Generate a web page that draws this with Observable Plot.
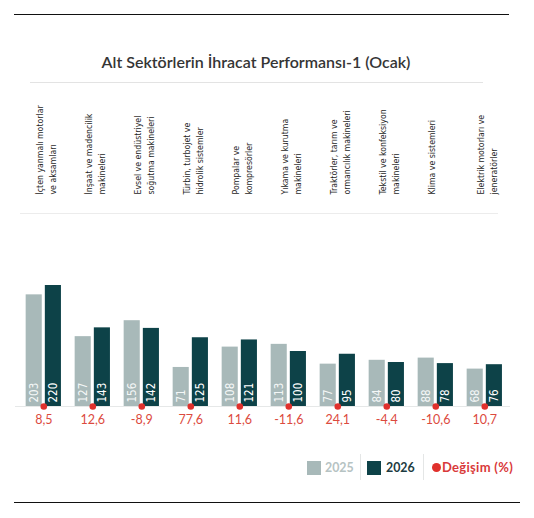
<!DOCTYPE html>
<html>
<head>
<meta charset="utf-8">
<script src="https://cdn.jsdelivr.net/npm/d3@7"></script>
<script src="https://cdn.jsdelivr.net/npm/@observablehq/plot@0.6"></script>
<style>
  html, body { margin: 0; padding: 0; background: #fff; }
  #wrap { position: relative; width: 534px; height: 518px; overflow: hidden; font-family: Lato, "Open Sans", sans-serif; }
  .hline { position: absolute; height: 0; }
  #title { position: absolute; left: 0; width: 512px; top: 52px; text-align: center; font-size: 16px; font-weight: 600; color: #353535; }
  #chart { position: absolute; left: 0; top: 90px; }
  #legend { position: absolute; top: 0; left: 0; width: 534px; height: 518px; pointer-events: none; }
  #legend > * { position: absolute; }
  .lt { top: 458px; line-height: 19px; font-weight: bold; white-space: nowrap; }
</style>
</head>
<body>
<div id="wrap">
  <div class="hline" style="left:14px;width:495px;top:14px;border-top:1.3px solid #111;"></div>
  <div id="title">Alt Sektörlerin İhracat Performansı-1 (Ocak)</div>
  <div class="hline" style="left:30px;width:453px;top:82px;border-top:1px solid #e3e3e3;"></div>
  <div class="hline" style="left:20px;width:478px;top:213px;border-top:1px solid #ececec;"></div>
  <div class="hline" style="left:15px;width:495px;top:406px;border-top:1px solid #e6e8e8;"></div>
  <div id="chart"></div>
  <div id="legend"></div>
  <div class="hline" style="left:14px;width:506px;top:502px;border-top:1.3px solid #111;"></div>
</div>
<script>
const categories = [
  "İçten yanmalı motorlar\nve aksamları",
  "İnşaat ve madencilik\nmakineleri",
  "Evsel ve endüstriyel\nsoğutma makineleri",
  "Türbin, turbojet ve\nhidrolik sistemler",
  "Pompalar ve\nkompresörler",
  "Yıkama ve kurutma\nmakineleri",
  "Traktörler, tarım ve\normancılık makineleri",
  "Tekstil ve konfeksiyon\nmakineleri",
  "Klima ve sistemleri",
  "Elektrik motorları ve\njeneratörler"
];
const years = ["2025", "2026"];
const values2025 = [203, 127, 156, 71, 108, 113, 77, 84, 88, 68];
const values2026 = [220, 143, 142, 125, 121, 100, 95, 80, 78, 76];
const changes = [8.5, 12.6, -8.9, 77.6, 11.6, -11.6, 24.1, -4.4, -10.6, 10.7];
const changeLabel = "Değişim (%)";

const colors = ["#a8b9b9", "#0d4248"];
const red = "#e0302c";

const rows = [];
categories.forEach((c, i) => {
  rows.push({cat: c, year: years[0], value: values2025[i]});
  rows.push({cat: c, year: years[1], value: values2026[i]});
});
const changeRows = categories.map((c, i) => ({cat: c, change: changes[i]}));
const fmt = v => v.toFixed(1).replace(".", ",");

const chart = Plot.plot({
  width: 534,
  height: 345,
  marginTop: 195,
  marginBottom: 29,
  marginLeft: 18.8,
  marginRight: 25.2,
  style: {background: "transparent", overflow: "visible"},
  fx: {axis: null, domain: categories, paddingInner: 0.28, paddingOuter: 0.14, round: false},
  x: {axis: null, domain: years, paddingInner: 0.16, paddingOuter: 0, round: false},
  y: {axis: null, domain: [0, 220]},
  color: {domain: years, range: colors},
  marks: [
    Plot.barY(rows, {fx: "cat", x: "year", y: "value", fill: "year"}),
    Plot.text(rows, {
      fx: "cat", x: "year", y: 0, text: d => String(d.value),
      rotate: -90, textAnchor: "start", dy: -4,
      fill: d => d.year === years[0] ? "#f4f7f7" : "#ffffff",
      fontSize: 11.5,
      fontFamily: "'Liberation Sans Narrow', 'DejaVu Sans Condensed', sans-serif"
    }),
    Plot.text(categories, {
      fx: d => d, text: d => d, frameAnchor: "top", dy: -91, dx: -10,
      rotate: -90, textAnchor: "start", lineHeight: 1.5,
      fill: "#1e1e1e", fontSize: 8.7,
      fontFamily: "'Liberation Sans Narrow', 'DejaVu Sans Condensed', sans-serif"
    }),
    Plot.dot(changeRows, {fx: "cat", frameAnchor: "bottom", r: 3.3, fill: red, stroke: "none"}),
    Plot.text(changeRows, {
      fx: "cat", text: d => fmt(d.change), frameAnchor: "bottom", dy: 17,
      fill: "#dc4a3e", fontSize: 12.5, fontFamily: "Lato, sans-serif"
    })
  ]
});
document.getElementById("chart").appendChild(chart);

const legend = document.getElementById("legend");
legend.innerHTML = `
  <span style="left:307px;top:461px;width:14px;height:14px;background:${colors[0]}"></span>
  <span class="lt" style="left:325px;font-size:12.4px;color:#b6c3c3;">${years[0]}</span>
  <span style="left:360px;top:454px;width:1px;height:26px;background:#e4e6e6"></span>
  <span style="left:367px;top:461px;width:14px;height:14px;background:${colors[1]}"></span>
  <span class="lt" style="left:386px;font-size:12.4px;color:#1d3b41;">${years[1]}</span>
  <span style="left:423px;top:454px;width:1px;height:26px;background:#e4e6e6"></span>
  <span style="left:431.5px;top:463px;width:9px;height:9px;border-radius:50%;background:${red}"></span>
  <span class="lt" style="left:442px;font-size:13px;letter-spacing:0.3px;color:#d9393a;">${changeLabel}</span>
`;
</script>
</body>
</html>
